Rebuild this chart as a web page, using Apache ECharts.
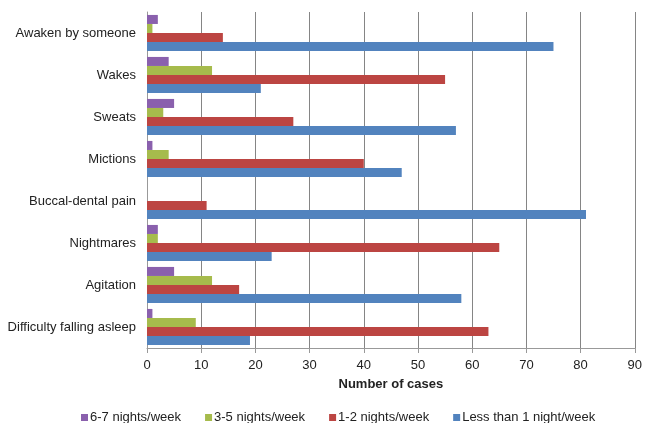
<!DOCTYPE html>
<html><head><meta charset="utf-8">
<script src="https://cdn.jsdelivr.net/npm/echarts@6/dist/echarts.min.js"></script>
<style>html,body{margin:0;padding:0;background:#fff}#c{width:645px;height:423px}</style>
</head><body><div id="c"></div>
<script>
const categories = ["Awaken by someone","Wakes","Sweats","Mictions","Buccal-dental pain","Nightmares","Agitation","Difficulty falling asleep"];
const seriesNames = ["6-7 nights/week","3-5 nights/week","1-2 nights/week","Less than 1 night/week"];
const s67 = [2,4,5,1,0,2,5,1];
const s35 = [1,12,3,4,0,2,12,9];
const s12 = [14,55,27,40,11,65,17,63];
const sLess = [75,21,57,47,81,23,58,19];
const xTicks = [0,10,20,30,40,50,60,70,80,90];
const colors = ['#8a60ad','#a6bb4c','#bc4542','#5283be'];
const data = [s67,s35,s12,sLess];
const chart = echarts.init(document.getElementById('c'));
chart.setOption({
  animation:false,
  textStyle:{fontFamily:'Liberation Sans, Arial, sans-serif'},
  grid:{left:147,right:9,top:12,bottom:75},
  legend:{top:406,left:76,itemWidth:7,itemHeight:7,itemGap:24,icon:'rect',
    textStyle:{fontSize:13,color:'#222',padding:[0,0,0,-3]},data:seriesNames},
  xAxis:{type:'value',min:xTicks[0],max:xTicks[xTicks.length-1],interval:10,
    name:'Number of cases',nameLocation:'middle',nameGap:30,
    nameTextStyle:{fontWeight:'bold',fontSize:13,color:'#222'},
    axisLine:{show:true,lineStyle:{color:'#999'}},
    axisTick:{show:true,length:5,lineStyle:{color:'#999'}},
    axisLabel:{fontSize:13,color:'#222',margin:11},
    splitLine:{show:true,lineStyle:{color:'#858585',width:1}}},
  yAxis:{type:'category',data:categories,inverse:true,
    axisLine:{show:true,lineStyle:{color:'#999'}},
    axisTick:{show:false},
    axisLabel:{fontSize:13,color:'#222',margin:11}},
  series:seriesNames.map((n,i)=>({name:n,type:'bar',data:data[i],
    barGap:'0%',barCategoryGap:'14%',
    itemStyle:{color:colors[i]}}))
});
</script></body></html>
